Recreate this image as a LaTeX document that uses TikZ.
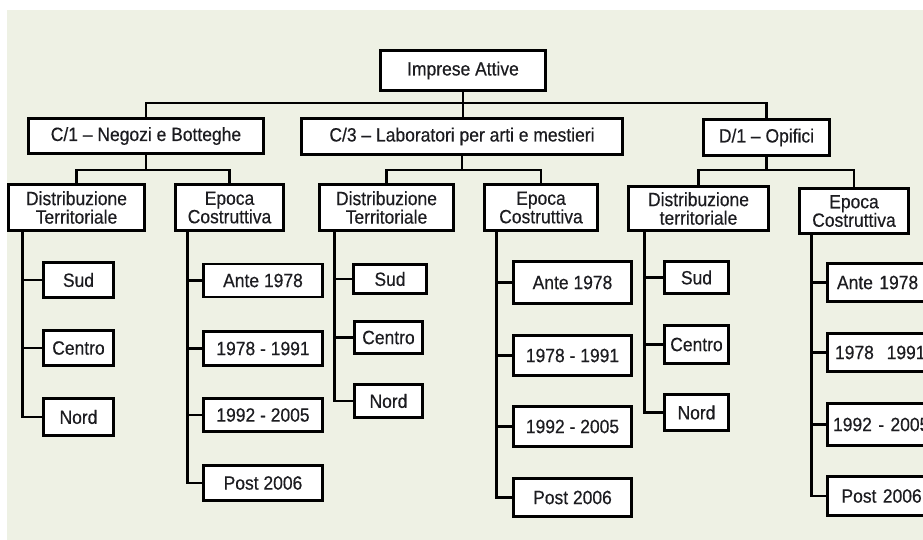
\documentclass[tikz,border=0pt]{standalone}
\usepackage{fontspec}
\setmainfont{Liberation Sans}[FakeStretch=0.91,FakeBold=0.4]
\definecolor{bgc}{RGB}{238,241,228}
\definecolor{txt}{RGB}{28,28,32}
\begin{document}
\begin{tikzpicture}[x=1pt,y=-1pt,
  bx/.style={draw=black, fill=white, line width=2.6pt, outer sep=0pt, inner sep=0pt,
    align=center, text=txt, font=\fontsize{19.2}{18.5}\selectfont},
  cut/.style={bx, anchor=west, text width=120pt, align=left},
  ln/.style={draw=black, line width=2.6pt}]
\useasboundingbox (0,0) rectangle (923,539);
\clip (0,0) rectangle (923,539);
\fill[bgc] (7,10) rectangle (924,540);

% level 0
\node[bx, minimum width=165pt, minimum height=40pt] (top) at (463,70.5) {Imprese Attive};
% level 1
\node[bx, minimum width=235pt, minimum height=35pt] (c1) at (146,136) {C/1 -- Negozi e Botteghe};
\node[bx, minimum width=321pt, minimum height=36pt] (c3) at (462,136.5) {C/3 -- Laboratori per arti e mestieri};
\node[bx, minimum width=126pt, minimum height=36pt] (d1) at (766.5,137.5) {D/1 -- Opifici};
% level 2
\node[bx, minimum width=136pt, minimum height=46pt] (c1d) at (76.5,207.5) {Distribuzione\\Territoriale};
\node[bx, minimum width=108pt, minimum height=46pt] (c1e) at (229.5,207.5) {Epoca\\Costruttiva};
\node[bx, minimum width=134pt, minimum height=46pt] (c3d) at (386.5,207.5) {Distribuzione\\Territoriale};
\node[bx, minimum width=113pt, minimum height=46pt] (c3e) at (541,207.5) {Epoca\\Costruttiva};
\node[bx, minimum width=140pt, minimum height=44pt] (d1d) at (698.5,208.5) {Distribuzione\\territoriale};
\node[bx, minimum width=109pt, minimum height=45pt] (d1e) at (854,211) {Epoca\\Costruttiva};

% C/1 leaves
\node[bx, minimum width=70pt, minimum height=35pt] (c1s) at (78.5,280) {Sud};
\node[bx, minimum width=70pt, minimum height=35pt] (c1c) at (78.5,348) {Centro};
\node[bx, minimum width=70pt, minimum height=37pt] (c1n) at (78.5,417) {Nord};
\node[bx, minimum width=119pt, minimum height=33pt] (c1e1) at (263,280.5) {Ante 1978};
\node[bx, minimum width=119pt, minimum height=34pt] (c1e2) at (263,348.5) {1978 - 1991};
\node[bx, minimum width=119pt, minimum height=33pt] (c1e3) at (263,415) {1992 - 2005};
\node[bx, minimum width=119pt, minimum height=35pt] (c1e4) at (263,483) {Post 2006};
% C/3 leaves
\node[bx, minimum width=73pt, minimum height=29pt] (c3s) at (390,279) {Sud};
\node[bx, minimum width=68pt, minimum height=32pt] (c3c) at (388.5,337.5) {Centro};
\node[bx, minimum width=68pt, minimum height=33pt] (c3n) at (388.5,401) {Nord};
\node[bx, minimum width=118pt, minimum height=42pt] (c3e1) at (572.5,282.5) {Ante 1978};
\node[bx, minimum width=118pt, minimum height=40pt] (c3e2) at (572.5,355.5) {1978 - 1991};
\node[bx, minimum width=118pt, minimum height=40pt] (c3e3) at (572.5,426.5) {1992 - 2005};
\node[bx, minimum width=118pt, minimum height=38pt] (c3e4) at (572.5,497.5) {Post 2006};
% D/1 leaves
\node[bx, minimum width=64pt, minimum height=32pt] (d1s) at (696.5,277.5) {Sud};
\node[bx, minimum width=64pt, minimum height=38pt] (d1c) at (696.5,344.5) {Centro};
\node[bx, minimum width=64pt, minimum height=36pt] (d1n) at (696.5,412.5) {Nord};
\node[cut, inner xsep=9.5pt, minimum height=38pt] (d1e1) at (827.5,282.5) {Ante 1978};
\node[cut, inner xsep=7.5pt, minimum height=38pt] (d1e2) at (827.5,352.5) {1978\ \ 1991};
\node[cut, inner xsep=5.5pt, minimum height=42pt] (d1e3) at (827.5,424.5) {1992 - 2005};
\node[cut, inner xsep=14pt, minimum height=39pt] (d1e4) at (827.5,496) {Post 2006};

% connectors level 0 -> 1
\coordinate (b0) at (463,103);
\draw[ln] (top.south) -- (b0) -| (c1.north);
\draw[ln] (b0) -| (d1.north);
\draw[ln] (top.south) -- (top.south |- c3.north);
% level 1 -> 2
\coordinate (b1) at (146,170);
\coordinate (b3) at (462,170);
\coordinate (b4) at (766.5,170);
\draw[ln] (c1.south) -- (b1) -| (c1d.north);
\draw[ln] (b1) -| (c1e.north);
\draw[ln] (c3.south) -- (b3) -| (c3d.north);
\draw[ln] (b3) -| (c3e.north);
\draw[ln] (d1.south) -- (b4) -| (d1d.north);
\draw[ln] (b4) -| (d1e.north);
% trunks
\foreach \l in {c1s,c1c,c1n} \draw[ln] ([xshift=14pt]c1d.south west) |- (\l.west);
\foreach \l in {c1e1,c1e2,c1e3,c1e4} \draw[ln] ([xshift=12pt]c1e.south west) |- (\l.west);
\foreach \l in {c3s,c3c,c3n} \draw[ln] ([xshift=15pt]c3d.south west) |- (\l.west);
\foreach \l in {c3e1,c3e2,c3e3,c3e4} \draw[ln] ([xshift=12pt]c3e.south west) |- (\l.west);
\foreach \l in {d1s,d1c,d1n} \draw[ln] ([xshift=16pt]d1d.south west) |- (\l.west);
\foreach \l in {d1e1,d1e2,d1e3,d1e4} \draw[ln] ([xshift=12pt]d1e.south west) |- (\l.west);
\end{tikzpicture}
\end{document}
